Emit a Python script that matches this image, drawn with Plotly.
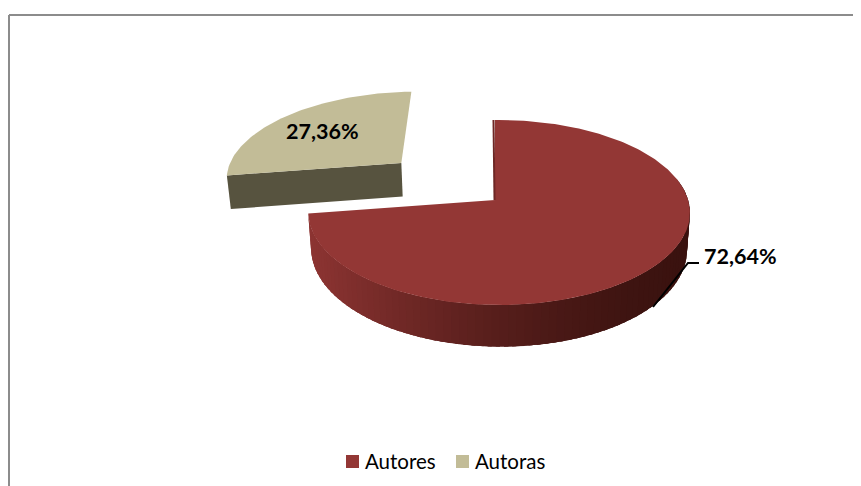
import numpy as np
import plotly.graph_objects as go

categories = ["Autores", "Autoras"]
values = [72.64, 27.36]
colors_top = ["#933735", "#C2BC97"]

# Perspective model of the tilted pie, in page pixels
AX, AY = 495.0, 200.0
A, B = 189.0, 90.8
K, M = 0.135, -0.0212
DEPTH, SHRINK = 36.0, 0.985
EXPLODE = 0.67
NUDGE = -4.0
PAGE_OFFSET = 8  # the page body margin


def project(X, Y, lower=False):
    X, Y = np.asarray(X, float), np.asarray(Y, float)
    w = 1 + K * Y + M * X
    x = AX + A * X / w
    y = AY - B * Y / w
    if lower:
        x = AX + (x - AX) * SHRINK
        y = y + DEPTH / w
    return x, y


def mix(c1, c2, t):
    return "rgb(%d,%d,%d)" % tuple(round(a + (b - a) * t) for a, b in zip(c1, c2))


fig = go.Figure()


def poly(x, y, color, line=0.0):
    fig.add_trace(go.Scatter(x=list(x), y=list(y), mode="lines", fill="toself",
                             fillcolor=color, line=dict(color=color, width=line),
                             hoverinfo="skip", showlegend=False))


total = sum(values)
split = 2 * np.pi * values[0] / total

# Big slice: outer side with gradient (strips overlap their neighbours)
th = np.linspace(0.0, split, 241)
for i in range(0, 240, 2):
    t0 = th[i:i + 6]
    X, Y = np.sin(t0), np.cos(t0)
    if Y.mean() > 0.2:
        continue
    xt, yt = project(X, Y)
    xb, yb = project(X, Y, True)
    f = np.clip((688 - xt.mean()) / 378, 0, 1)
    col = mix((0x3A, 0x12, 0x0F), (0x8C, 0x34, 0x32), f ** 1.6)
    poly(np.r_[xt, xb[::-1]], np.r_[yt, yb[::-1]], col)

# Big slice: top face
xt, yt = project(np.sin(th), np.cos(th))
poly(np.r_[AX, xt], np.r_[AY, yt], colors_top[0])
# Big slice: thin inner cut
fig.add_trace(go.Scatter(x=[xt[0] - 1.5, AX - 0.5], y=[yt[0], AY], mode="lines",
                         line=dict(color="#6E2725", width=2), hoverinfo="skip",
                         showlegend=False))

# Small slice, exploded along its bisector
mid = split + (2 * np.pi - split) / 2
ex, ey = EXPLODE * np.sin(mid), EXPLODE * np.cos(mid)
th2 = np.linspace(split, 2 * np.pi, 80)
X2, Y2 = ex + np.sin(th2), ey + np.cos(th2)
ax2, ay2 = project([ex], [ey])
ax2b, ay2b = project([ex], [ey], True)
xt2, yt2 = project(X2, Y2)
xb2, yb2 = project(X2, Y2, True)
poly(np.r_[ax2b, xb2[0], xt2[0], ax2] + NUDGE, np.r_[ay2b, yb2[0], yt2[0], ay2], "#57533F")
poly(np.r_[ax2, xt2] + NUDGE, np.r_[ay2, yt2], colors_top[1])

# Leader line for the big slice
fig.add_trace(go.Scatter(x=[653, 688, 699], y=[307, 263, 263], mode="lines",
                         line=dict(color="#000000", width=2), hoverinfo="skip",
                         showlegend=False))


def label(v):
    return f"{v:.2f}".replace(".", ",") + "%"


fig.add_annotation(x=740.5, y=256, text=f"<b>{label(values[0])}</b>", showarrow=False,
                   font=dict(family="Lato", size=21.5, color="#000000"))
fig.add_annotation(x=322, y=131, text=f"<b>{label(values[1])}</b>", showarrow=False,
                   font=dict(family="Lato", size=21.5, color="#000000"))

# Legend entries
for name, c, sx, tx in zip(categories, colors_top, [352.5, 462.5], [365, 475]):
    fig.add_trace(go.Scatter(x=[sx], y=[461.5], mode="markers", name=name, showlegend=False,
                             marker=dict(symbol="square", size=13, color=c), hoverinfo="name"))
    fig.add_annotation(x=tx, y=461, text=name, showarrow=False, xanchor="left",
                       xshift=-2, font=dict(family="Lato", size=20.5, color="#000000"))

# Chart frame
fig.add_shape(type="line", x0=9, x1=869, y0=15, y1=15, line=dict(color="#8C8C8C", width=2))
fig.add_shape(type="line", x0=9, x1=9, y0=15, y1=494, line=dict(color="#8C8C8C", width=2))

fig.update_layout(
    width=861, height=486, margin=dict(l=0, r=0, t=0, b=0),
    paper_bgcolor="#FFFFFF", plot_bgcolor="#FFFFFF", showlegend=False,
    xaxis=dict(range=[PAGE_OFFSET, 861 + PAGE_OFFSET], visible=False, fixedrange=True),
    yaxis=dict(range=[486 + PAGE_OFFSET, PAGE_OFFSET], visible=False, fixedrange=True),
)
fig.write_html("out.html", config=dict(displayModeBar=False))
